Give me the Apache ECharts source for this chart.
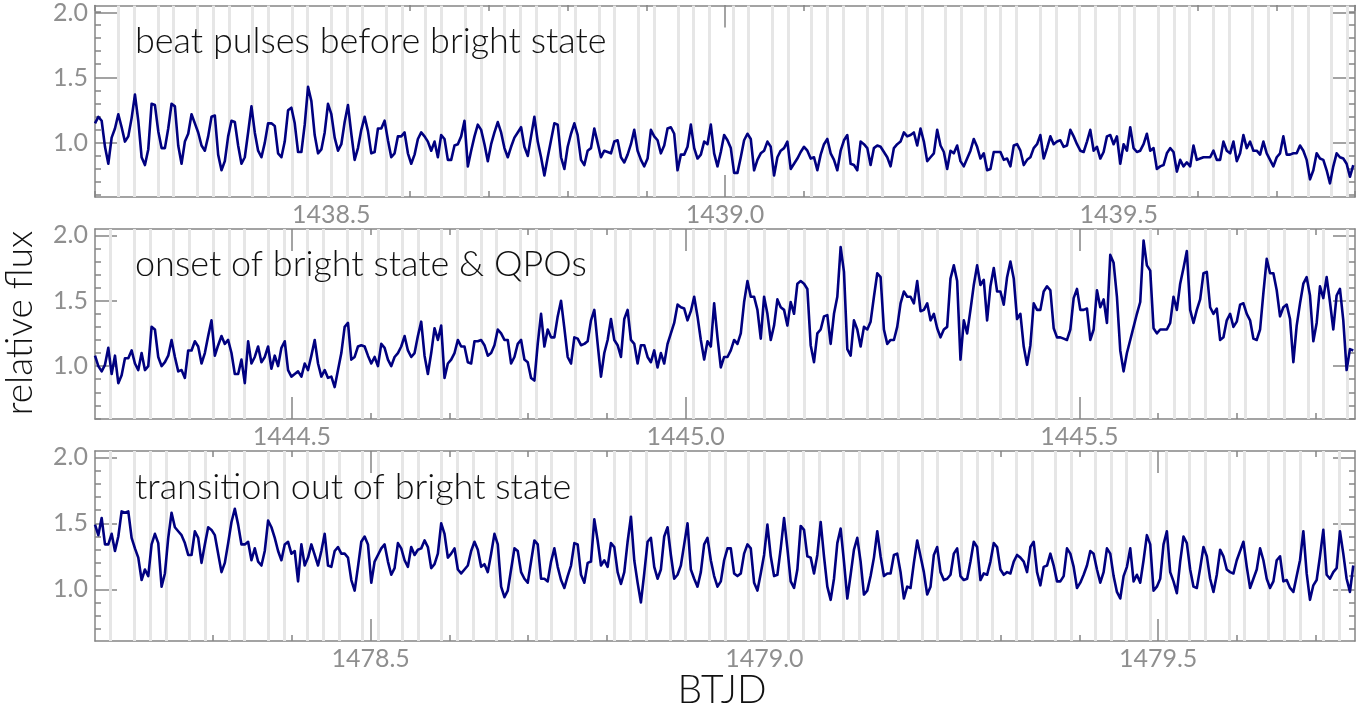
<!DOCTYPE html>
<html>
<head>
<meta charset="utf-8">
<script src="https://cdn.jsdelivr.net/npm/echarts@6/dist/echarts.min.js"></script>
<style>
html, body { margin: 0; background: #fff; }
#chart { width: 1372px; height: 708px; }
</style>
</head>
<body>
<div id="chart"></div>
<script>
// light curve samples, one every cadence days from the panel start
var cadence = 0.004227;
var panelStart = [1438.2, 1444.25, 1478.15];
var panelEnd = [1439.8, 1445.85, 1479.75];
var panelTitles = ['beat pulses before bright state', 'onset of bright state & QPOs', 'transition out of bright state'];
var timeTicks = [[1438.5, 1439.0, 1439.5], [1444.5, 1445.0, 1445.5], [1478.5, 1479.0, 1479.5]];
var fluxTicks = [1.0, 1.5, 2.0];
var fluxMin = [0.585, 0.596, 0.608];
var fluxMax = [2.053, 2.048, 2.048];

// beat pulse ephemeris (grey lines)
var beatPeriod = 0.024406;
var firstBeat = [1438.2275, 1444.2732, 1478.1712];

var flux1 = [
  1.15,1.20,1.17,0.97,0.84,1.04,1.11,1.22,1.12,1.01,1.05,1.19,1.37,1.17,0.89,0.83,0.95,1.30,1.29,1.09,
  0.96,0.96,1.11,1.30,1.28,0.98,0.84,1.01,1.07,1.22,1.15,1.08,0.98,0.94,1.05,1.20,1.21,0.91,0.79,0.86,
  1.05,1.17,1.16,0.98,0.84,0.89,1.08,1.28,1.08,0.94,0.89,1.00,1.15,1.15,1.13,0.92,0.89,1.01,1.25,1.27,
  1.15,0.93,0.93,1.14,1.43,1.32,1.06,0.92,0.95,1.08,1.30,1.22,1.04,0.94,0.99,1.16,1.29,1.07,0.87,0.96,
  1.10,1.20,1.09,0.92,0.93,1.11,1.11,1.17,1.02,0.89,0.92,1.05,1.05,1.08,0.92,0.84,0.91,1.03,
  1.08,1.05,1.01,0.94,1.01,0.89,1.06,1.03,0.87,0.87,0.98,0.99,1.05,1.17,0.82,0.94,1.05,1.14,1.10,0.99,
  0.86,0.99,1.08,1.16,1.08,0.96,0.89,0.97,1.04,1.08,1.12,0.97,0.90,1.05,1.20,1.01,0.89,0.75,0.89,1.02,
  1.15,1.14,0.89,0.80,0.97,1.07,1.15,1.06,0.87,0.83,0.94,0.96,1.11,1.00,0.89,0.94,0.93,0.92,1.01,1.02,
  0.89,0.85,0.91,0.99,1.10,0.94,0.87,0.82,0.88,1.10,1.05,1.02,0.92,0.98,1.11,1.12,1.07,0.79,0.91,0.91,
  0.97,1.14,0.96,0.88,0.91,1.01,0.99,1.14,0.92,0.82,0.93,1.06,1.02,0.96,0.77,0.77,
  0.89,1.02,1.07,1.03,0.79,0.87,0.92,0.94,1.01,0.97,0.75,0.89,0.94,0.96,1.01,0.80,0.84,0.88,0.93,0.97,
  0.94,0.88,0.89,0.79,0.91,0.99,1.03,0.92,0.87,0.79,0.94,1.02,1.06,0.84,0.83,0.79,1.01,0.99,0.96,0.83,
  0.96,0.98,0.97,0.93,0.89,0.82,0.96,0.99,1.01,1.08,1.05,1.06,1.08,0.98,1.11,1.01,0.86,0.89,0.92,1.10,
  0.98,0.93,0.80,0.94,0.92,0.98,0.86,0.82,0.88,0.94,1.03,0.97,0.88,0.92,0.79,0.80,0.93,0.93,0.93,0.87,
  0.88,0.82,0.98,0.99,0.94,0.83,0.87,0.89,0.96,0.99,1.06,0.88,0.96,1.05,0.99,1.01,
  1.02,0.97,0.98,1.10,1.05,0.99,0.94,0.93,1.01,1.10,0.94,0.97,0.88,0.93,1.05,1.06,0.99,1.05,0.84,0.99,
  0.94,1.12,0.96,0.93,0.94,0.99,1.07,0.94,0.96,0.80,0.82,0.83,0.92,0.96,0.93,0.78,0.87,0.82,0.85,0.82,
  0.98,0.87,0.88,0.89,0.89,0.89,0.94,0.87,0.87,1.01,0.94,0.92,1.01,0.86,0.92,1.06,0.96,1.01,0.94,0.94,
  0.91,1.01,0.92,0.87,0.82,0.89,0.92,1.05,0.91,0.91,0.92,0.92,0.98,0.94,0.87,0.72,0.79,0.92,0.88,0.87,
  0.79,0.69,0.82,0.92,0.89,0.88,0.84,0.74,0.83
];

var flux2 = [
  1.08,1.00,0.96,1.01,1.14,0.94,1.08,0.87,0.93,1.06,1.06,1.12,1.02,0.97,1.10,0.97,1.00,1.30,1.28,1.07,
  1.00,1.03,1.08,1.20,1.07,0.96,0.97,0.91,1.12,1.12,1.19,1.15,1.02,1.10,1.23,1.35,1.08,1.16,1.23,1.17,
  1.20,1.10,0.94,0.94,1.05,0.87,1.19,1.02,1.07,1.15,1.03,1.07,1.15,0.98,1.08,1.00,1.14,1.19,0.97,0.92,
  0.94,0.96,0.92,1.02,0.97,1.08,1.20,1.02,0.92,0.97,0.91,0.92,0.84,0.97,1.10,1.30,1.33,1.05,1.07,1.15,
  1.16,1.15,1.08,1.02,1.07,1.00,1.17,1.14,1.05,1.00,1.07,1.10,1.15,1.23,1.12,1.07,1.10,1.23,
  1.34,1.08,0.94,1.10,1.29,1.20,1.31,0.91,1.02,1.05,1.10,1.20,1.15,1.15,1.03,1.02,1.19,1.19,1.20,1.16,
  1.08,1.10,1.16,1.28,1.25,1.20,1.20,1.02,1.07,1.17,1.20,1.05,1.03,0.91,0.89,1.17,1.40,1.15,1.28,1.22,
  1.22,1.38,1.50,1.29,1.07,1.02,1.22,1.21,1.16,1.17,1.19,1.35,1.43,1.17,0.92,1.10,1.20,1.36,1.20,1.16,
  1.07,1.36,1.43,1.20,1.17,1.02,1.16,1.16,1.07,1.03,1.12,0.99,1.10,1.02,1.17,1.25,1.33,1.47,1.45,1.44,
  1.35,1.42,1.53,1.38,1.20,1.05,1.19,1.15,1.48,1.22,0.99,1.07,1.07,1.12,1.20,1.17,
  1.25,1.49,1.65,1.53,1.53,1.43,1.21,1.53,1.40,1.20,1.31,1.51,1.45,1.43,1.31,1.49,1.40,1.63,1.65,1.63,
  1.59,1.16,1.03,1.25,1.28,1.38,1.39,1.17,1.40,1.53,1.91,1.72,1.13,1.08,1.35,1.28,1.15,1.30,1.28,1.34,
  1.53,1.71,1.68,1.28,1.17,1.20,1.20,1.30,1.48,1.57,1.53,1.53,1.48,1.65,1.42,1.43,1.48,1.35,1.40,1.29,
  1.22,1.28,1.30,1.67,1.77,1.65,1.05,1.35,1.25,1.43,1.62,1.77,1.62,1.66,1.35,1.61,1.75,1.57,1.57,1.47,
  1.68,1.80,1.67,1.36,1.40,1.15,1.01,1.16,1.48,1.43,1.43,1.57,1.61,1.58,1.29,1.22,
  1.22,1.21,1.20,1.28,1.52,1.59,1.43,1.43,1.44,1.20,1.28,1.58,1.45,1.51,1.33,1.85,1.79,1.53,1.12,0.96,
  1.10,1.20,1.30,1.40,1.49,1.96,1.77,1.73,1.29,1.25,1.28,1.28,1.28,1.33,1.53,1.43,1.63,1.75,1.88,1.43,
  1.33,1.43,1.51,1.71,1.72,1.45,1.40,1.44,1.20,1.22,1.35,1.40,1.30,1.34,1.47,1.48,1.40,1.35,1.21,1.20,
  1.28,1.56,1.82,1.71,1.71,1.58,1.38,1.45,1.47,1.36,1.03,1.31,1.48,1.63,1.68,1.54,1.19,1.33,1.61,1.52,
  1.68,1.49,1.28,1.54,1.59,1.35,0.97,1.13,1.12
];

var flux3 = [
  1.49,1.41,1.54,1.34,1.34,1.42,1.29,1.40,1.59,1.58,1.59,1.39,1.31,1.24,1.07,1.15,1.10,1.34,1.42,1.35,
  1.02,1.12,1.39,1.58,1.47,1.44,1.41,1.35,1.26,1.26,1.44,1.39,1.20,1.34,1.47,1.45,1.41,1.27,1.13,1.20,
  1.35,1.51,1.61,1.49,1.34,1.34,1.36,1.22,1.31,1.21,1.18,1.29,1.52,1.47,1.39,1.29,1.22,1.34,1.36,1.27,
  1.29,1.06,1.34,1.18,1.24,1.34,1.26,1.18,1.29,1.42,1.18,1.17,1.29,1.32,1.27,1.27,1.24,1.07,0.99,1.17,
  1.36,1.40,1.34,1.05,1.21,1.26,1.31,1.34,1.21,1.11,1.16,1.35,1.31,1.22,1.17,1.32,1.26,1.30,
  1.31,1.37,1.32,1.16,1.19,1.27,1.50,1.42,1.24,1.27,1.31,1.15,1.12,1.15,1.18,1.29,1.36,1.30,1.17,1.19,
  1.13,1.27,1.42,1.34,1.02,0.94,0.99,1.15,1.31,1.29,1.13,1.08,1.05,1.21,1.37,1.34,1.08,1.08,1.06,1.21,
  1.31,1.17,1.07,1.01,1.10,1.18,1.35,1.34,1.11,1.05,1.20,1.21,1.53,1.37,1.18,1.22,1.17,1.35,1.32,1.13,
  1.04,1.13,1.36,1.55,1.22,1.05,0.90,1.12,1.36,1.39,1.17,1.08,1.15,1.40,1.47,1.26,1.08,1.11,1.18,1.34,
  1.50,1.15,1.08,1.02,1.13,1.34,1.39,1.22,1.10,1.02,1.06,1.22,1.31,1.31,1.12,1.10,
  1.12,1.27,1.34,1.31,1.05,0.99,1.12,1.26,1.49,1.25,1.10,1.11,1.31,1.54,1.31,1.06,1.01,1.15,1.48,1.45,
  1.25,1.24,1.12,1.26,1.51,1.25,1.02,0.92,1.08,1.35,1.46,1.21,0.93,1.11,1.30,1.39,1.21,0.96,0.99,1.10,
  1.24,1.44,1.25,1.10,1.12,1.12,1.26,1.27,1.13,0.93,1.02,1.01,1.20,1.37,1.25,1.13,0.96,1.02,1.26,1.32,
  1.13,1.07,1.08,1.11,1.27,1.31,1.10,1.07,1.08,1.21,1.36,1.32,1.07,1.12,1.11,1.21,1.35,1.32,1.15,1.11,
  1.13,1.12,1.21,1.26,1.24,1.21,1.13,1.32,1.36,1.13,1.03,1.17,1.18,1.27,1.18,1.06,
  1.06,1.10,1.31,1.27,1.17,1.01,1.05,1.11,1.18,1.29,1.27,1.15,1.05,1.13,1.31,1.27,1.10,0.98,0.93,1.10,
  1.17,1.31,1.06,1.11,1.05,1.22,1.41,1.34,0.99,1.02,1.08,1.34,1.44,1.13,1.06,0.97,1.21,1.40,1.35,1.15,
  1.02,1.01,1.16,1.32,1.25,1.08,0.98,1.11,1.30,1.25,1.15,1.13,1.12,1.22,1.29,1.36,1.17,1.01,1.08,1.15,
  1.31,1.22,1.08,1.01,1.06,1.22,1.25,1.06,1.07,1.01,0.98,1.10,1.22,1.44,1.12,0.92,1.03,1.07,1.25,1.45,
  1.11,1.08,1.13,1.16,1.44,1.27,1.08,0.98,1.18
];

var fluxSeries = [flux1, flux2, flux3];

var FONT = 'Lato';
var frameColor = '#858585';
var labelColor = '#8f8f8f';
var rows = [{ top: 5, height: 192 }, { top: 229, height: 190 }, { top: 451, height: 190 }];

function tenths(a, b) {
    var out = [];
    for (var k = Math.ceil(a * 10 - 1e-6); k <= Math.floor(b * 10 + 1e-6); k++) out.push(k / 10);
    return out;
}

function axisSet(isX, g, p, major, pos) {
    var min = isX ? panelStart[p] : fluxMin[p];
    var max = isX ? panelEnd[p] : fluxMax[p];
    var ticks = major ? (isX ? timeTicks[p] : fluxTicks) : tenths(min, max);
    var withLabel = major && (pos === 'bottom' || pos === 'left');
    return {
        type: 'value', gridIndex: g, position: pos, min: min, max: max,
        axisLine: { show: major, onZero: false, lineStyle: { color: frameColor, width: 1.5 } },
        axisTick: {
            show: true, inside: true, length: major ? 22 : 6, customValues: ticks,
            lineStyle: { color: frameColor, width: 1.5 }
        },
        axisLabel: {
            show: withLabel, customValues: ticks, color: labelColor, fontSize: 25,
            fontFamily: FONT, margin: isX ? 5 : 7,
            formatter: function (v) { return v.toFixed(1); }
        },
        splitLine: { show: false }
    };
}

var grids = [], xAxes = [], yAxes = [], series = [];

rows.forEach(function (r, p) {
    [true, false].forEach(function (major) {
        var g = grids.length;
        grids.push({ left: 95, width: 1260, top: r.top, height: r.height });
        xAxes.push(axisSet(true, g, p, major, 'bottom'));
        xAxes.push(axisSet(true, g, p, major, 'top'));
        yAxes.push(axisSet(false, g, p, major, 'left'));
        yAxes.push(axisSet(false, g, p, major, 'right'));
    });
    var ax = p * 4; // major bottom x axis / major left y axis of this panel

    var beats = [];
    for (var t = firstBeat[p]; t < panelEnd[p]; t += beatPeriod) beats.push({ xAxis: t });
    series.push({
        type: 'line', xAxisIndex: ax, yAxisIndex: ax, data: [], z: 1,
        markLine: {
            silent: true, symbol: ['none', 'none'], z: 1, animation: false,
            label: { show: false },
            lineStyle: { color: '#e6e6e6', width: 3, type: 'solid' },
            emphasis: { disabled: true },
            data: beats
        }
    });

    var start = panelStart[p];
    series.push({
        type: 'line', xAxisIndex: ax, yAxisIndex: ax, z: 3,
        showSymbol: false, symbol: 'none', smooth: false,
        lineStyle: { color: '#000080', width: 2.6, join: 'round' },
        data: fluxSeries[p].map(function (v, i) { return [start + i * cadence, v]; })
    });
});

var titleTops = [23, 246, 469];
var graphics = panelTitles.map(function (s, p) {
    return {
        type: 'text', left: 135, top: titleTops[p], silent: true, z: 100,
        style: { text: s, font: '300 36px ' + FONT, fill: '#111' }
    };
});
graphics.push({
    type: 'text', x: 20, y: 323, rotation: Math.PI / 2, silent: true, z: 100,
    style: { text: 'relative flux', font: '300 37px ' + FONT, fill: '#111',
             align: 'center', verticalAlign: 'middle', textAlign: 'center', textVerticalAlign: 'middle' }
});
graphics.push({
    type: 'text', x: 722, y: 690, silent: true, z: 100,
    style: { text: 'BTJD', font: '300 39px ' + FONT, fill: '#111',
             align: 'center', verticalAlign: 'middle', textAlign: 'center', textVerticalAlign: 'middle' }
});

var chart = echarts.init(document.getElementById('chart'));
chart.setOption({
    animation: false,
    backgroundColor: '#fff',
    grid: grids,
    xAxis: xAxes,
    yAxis: yAxes,
    series: series,
    graphic: graphics
});
</script>
</body>
</html>
